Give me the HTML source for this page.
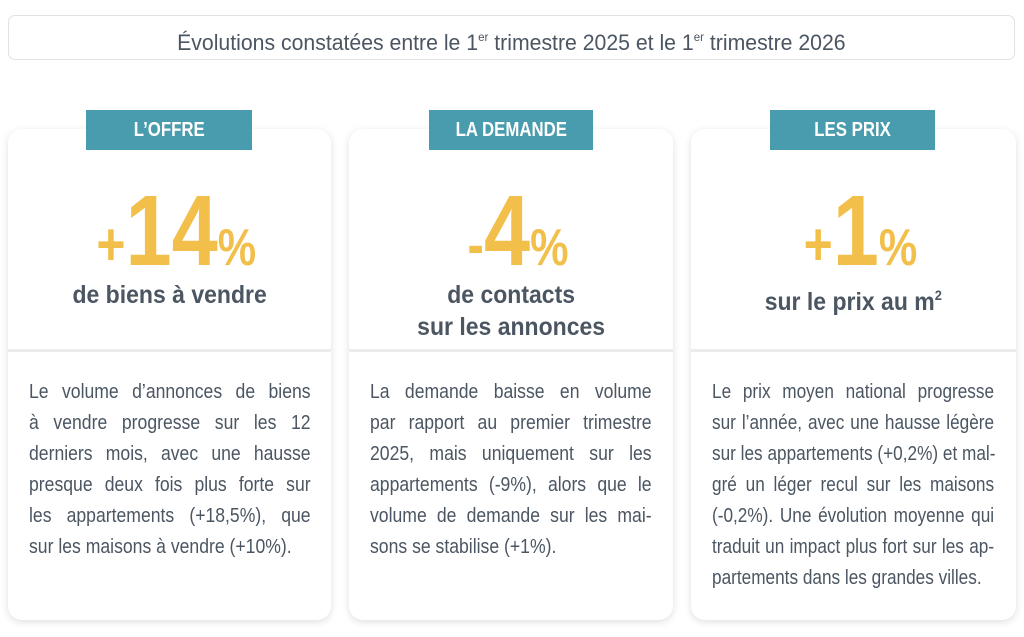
<!DOCTYPE html>
<html><head><meta charset="utf-8"><style>
body{margin:0;width:1024px;height:637px;background:#fff;font-family:"Liberation Sans Narrow","Liberation Sans",sans-serif;color:#4b5662;position:relative;overflow:hidden}
.hdr{position:absolute;left:8px;top:15px;width:1005px;height:43px;border:1px solid #e2e2e2;border-radius:7px;text-align:center;line-height:43px;font-size:22px;color:#4b5662}
.hdr span{display:inline-block;transform:scaleX(0.965)}
.hdr sup{font-size:12px;vertical-align:9px}
.card{position:absolute;top:129px;height:491px;background:#fff;border-radius:14px;box-shadow:0 2px 8px rgba(0,0,0,.13)}
.tab{position:absolute;top:-19px;height:40px;background:#489cad;color:#fff;font-weight:bold;font-size:20px;line-height:40px;text-align:center}
.tab span{display:inline-block;transform:scaleX(0.84)}
.big{position:absolute;top:52px;left:14px;right:0;text-align:center;color:#f2bf4a;font-weight:bold;font-size:100px;line-height:100px}
.big span.w{display:inline-block;transform:scaleX(0.83)}
.big .s{font-size:60px}.big .p{font-size:52px}
.sub{position:absolute;top:150px;left:0;right:0;text-align:center;font-weight:bold;font-size:25px;line-height:32px;color:#4b5662}
.sub span{display:inline-block;transform:scaleX(0.92)}
.sub sup{font-size:14px;vertical-align:10px}
.div{position:absolute;top:220px;left:0;right:0;height:3px;background:#ececec}
.txt{position:absolute;top:248px;left:21px;width:320px;transform:scaleX(0.88);transform-origin:0 0;font-size:20px;line-height:31px;font-family:"Liberation Sans",sans-serif}
.txt.n{width:328px;transform:scaleX(0.86)}
.txt div{white-space:nowrap;text-align:justify;text-align-last:justify}
.txt div.l{text-align-last:left}
</style></head><body>
<div class="hdr"><span>Évolutions constatées entre le 1<sup>er</sup> trimestre 2025 et le 1<sup>er</sup> trimestre 2026</span></div>

<div class="card" style="left:8px;width:323px">
<div class="tab" style="left:78px;width:166px"><span>L’OFFRE</span></div>
<div class="big"><span class="w"><span class="s">+</span>14<span class="p">%</span></span></div>
<div class="sub"><span>de biens à vendre</span></div>
<div class="div"></div>
<div class="txt">
<div>Le volume d’annonces de biens</div>
<div>à vendre progresse sur les 12</div>
<div>derniers mois, avec une hausse</div>
<div>presque deux fois plus forte sur</div>
<div>les appartements (+18,5%), que</div>
<div class="l">sur les maisons à vendre (+10%).</div>
</div>
</div>

<div class="card" style="left:349px;width:324px">
<div class="tab" style="left:80px;width:164px"><span>LA DEMANDE</span></div>
<div class="big"><span class="w"><span class="s">-</span>4<span class="p">%</span></span></div>
<div class="sub"><span>de contacts<br>sur les annonces</span></div>
<div class="div"></div>
<div class="txt">
<div>La demande baisse en volume</div>
<div>par rapport au premier trimestre</div>
<div>2025, mais uniquement sur les</div>
<div>appartements (-9%), alors que le</div>
<div>volume de demande sur les mai-</div>
<div class="l">sons se stabilise (+1%).</div>
</div>
</div>

<div class="card" style="left:691px;width:325px">
<div class="tab" style="left:79px;width:165px"><span>LES PRIX</span></div>
<div class="big"><span class="w"><span class="s">+</span>1<span class="p">%</span></span></div>
<div class="sub"><span>sur le prix au m<sup>2</sup></span></div>
<div class="div"></div>
<div class="txt n">
<div>Le prix moyen national progresse</div>
<div>sur l’année, avec une hausse légère</div>
<div>sur les appartements (+0,2%) et mal-</div>
<div>gré un léger recul sur les maisons</div>
<div>(-0,2%). Une évolution moyenne qui</div>
<div>traduit un impact plus fort sur les ap-</div>
<div class="l">partements dans les grandes villes.</div>
</div>
</div>
</body></html>
